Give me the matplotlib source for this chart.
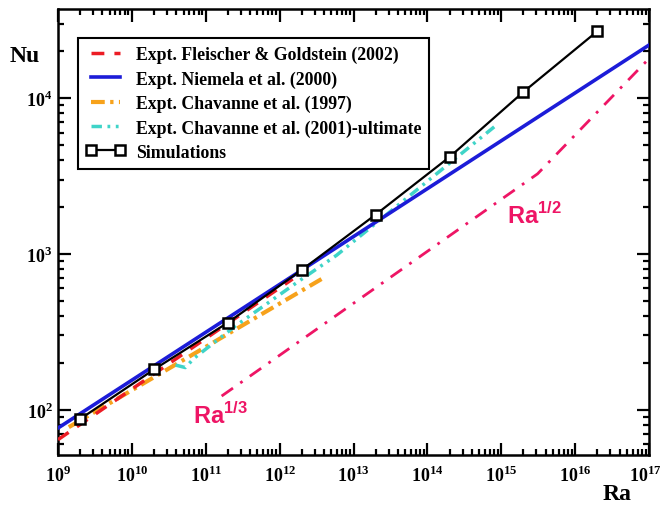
import matplotlib
matplotlib.use("Agg")
import matplotlib.pyplot as plt
from matplotlib.ticker import FixedLocator, FixedFormatter, LogLocator, NullFormatter
from matplotlib.transforms import ScaledTranslation

plt.rcParams['mathtext.fontset'] = 'custom'
plt.rcParams['mathtext.rm'] = 'Liberation Serif:bold'
plt.rcParams['mathtext.bf'] = 'Liberation Serif:bold'
plt.rcParams['mathtext.sf'] = 'Liberation Sans:bold'

# ---------------- data ----------------
sim_ra = [2e9, 2e10, 2e11, 2e12, 2e13, 2e14, 2e15, 2e16]
sim_nu = [87, 181, 362, 790, 1790, 4200, 11000, 27000]

niemela_ra = [1e9, 1e17]
niemela_nu = [76, 22000]

fleischer_ra = [1e9, 1.5e12]
fleischer_nu = [64, 690]

chav97_ra = [1.4e9, 4.0e12]
chav97_nu = [77, 705]

chav01_ra = [3.9e10, 5.3e10, 6.9e10, 2.6e11, 1.9e12, 5.9e12, 9e14]
chav01_nu = [193, 186, 213, 348, 678, 980, 6850]

scaling_ra = [1.64e11, 3.1e15, 1e17]
scaling_nu = [122, 3270, 18000]

x_ticks = [1e9, 1e10, 1e11, 1e12, 1e13, 1e14, 1e15, 1e16, 1e17]
x_tick_labels = [r'$10^{9}$', r'$10^{10}$', r'$10^{11}$', r'$10^{12}$', r'$10^{13}$',
                 r'$10^{14}$', r'$10^{15}$', r'$10^{16}$', r'$10^{17}$']
y_ticks = [1e2, 1e3, 1e4]
y_tick_labels = [r'$10^{2}$', r'$10^{3}$', r'$10^{4}$']

RED = '#ec1c24'
BLUE = '#1c1cd8'
ORANGE = '#f7a21b'
CYAN = '#3fd4c8'
PINK = '#ee1565'

fig = plt.figure(figsize=(6.64, 5.06), dpi=100)
ax = fig.add_axes([58/664, 1-456/506, (649-58)/664, (456-10)/506])
ax.set_xscale('log')
ax.set_yscale('log')

ax.plot(scaling_ra, scaling_nu, color=PINK, lw=2.0, dashes=(5, 3.2, 1, 3.2), zorder=2)
ax.plot(chav97_ra, chav97_nu, color=ORANGE, lw=3.0, dashes=(3.3, 1.3, 0.8, 1.3),
        label='Expt. Chavanne et al. (1997)', zorder=3)
ax.plot(chav01_ra, chav01_nu, color=CYAN, lw=2.5, dashes=(3, 1.6, 0.8, 1.6, 0.8, 1.6),
        label='Expt. Chavanne et al. (2001)-ultimate', zorder=4)
ax.plot(fleischer_ra, fleischer_nu, color=RED, lw=2.5, dashes=(3.7, 2.9),
        label='Expt. Fleischer & Goldstein (2002)', zorder=5)
ax.plot(niemela_ra, niemela_nu, color=BLUE, lw=2.6,
        label='Expt. Niemela et al. (2000)', zorder=6)
ax.plot(sim_ra, sim_nu, color='black', lw=1.6, marker='s', ms=7, mfc='white',
        mec='black', mew=1.8, label='Simulations', zorder=7)

ax.set_xlim(1e9, 1e17)
ax.set_ylim(51, 3.75e4)

ax.xaxis.set_major_locator(FixedLocator(x_ticks))
ax.xaxis.set_major_formatter(FixedFormatter(x_tick_labels))
ax.yaxis.set_major_locator(FixedLocator(y_ticks))
ax.yaxis.set_major_formatter(FixedFormatter(y_tick_labels))
ax.xaxis.set_minor_locator(LogLocator(base=10, subs=range(2, 10), numticks=100))
ax.yaxis.set_minor_locator(LogLocator(base=10, subs=range(2, 10), numticks=100))
ax.xaxis.set_minor_formatter(NullFormatter())
ax.yaxis.set_minor_formatter(NullFormatter())

ax.tick_params(which='both', direction='in', top=True, right=True, width=1.6)
ax.tick_params(which='major', length=9, labelsize=13)
ax.tick_params(which='minor', length=4.5)
ax.tick_params(axis='x', which='major', pad=7)
ax.tick_params(axis='y', which='major', pad=4)
for s in ax.spines.values():
    s.set_linewidth(1.8)

fig.canvas.draw()
last = ax.xaxis.get_major_ticks()[-1].label1
last.set_transform(last.get_transform() + ScaledTranslation(-3/72, 0, fig.dpi_scale_trans))

fig.text(25/664, 1-57/506, 'Nu', fontfamily='Liberation Serif', fontweight='bold',
         fontsize=17, ha='center', va='center')
fig.text(617/664, 1-495/506, 'Ra', fontfamily='Liberation Serif', fontweight='bold',
         fontsize=17, ha='center', va='center')

ax.text(6.7e10, 82, r'$\mathsf{Ra}^{\mathsf{1/3}}$', color=PINK, fontsize=17,
        ha='left', va='baseline')
ax.text(1.2e15, 1575, r'$\mathsf{Ra}^{\mathsf{1/2}}$', color=PINK, fontsize=17,
        ha='left', va='baseline')

handles, labels = ax.get_legend_handles_labels()
order = ['Expt. Fleischer & Goldstein (2002)', 'Expt. Niemela et al. (2000)',
         'Expt. Chavanne et al. (1997)', 'Expt. Chavanne et al. (2001)-ultimate',
         'Simulations']
hmap = dict(zip(labels, handles))
leg = ax.legend([hmap[k] for k in order], order, loc='upper left',
                bbox_to_anchor=(20/591, 1-29/446), numpoints=2, fancybox=False,
                edgecolor='black', framealpha=1,
                prop={'family': 'Liberation Serif', 'weight': 'bold', 'size': 12.8},
                handlelength=2.2, handletextpad=0.6, labelspacing=0.4,
                borderpad=0.45, borderaxespad=0)
leg.get_frame().set_linewidth(1.5)

fig.savefig('out.png', dpi=100)
